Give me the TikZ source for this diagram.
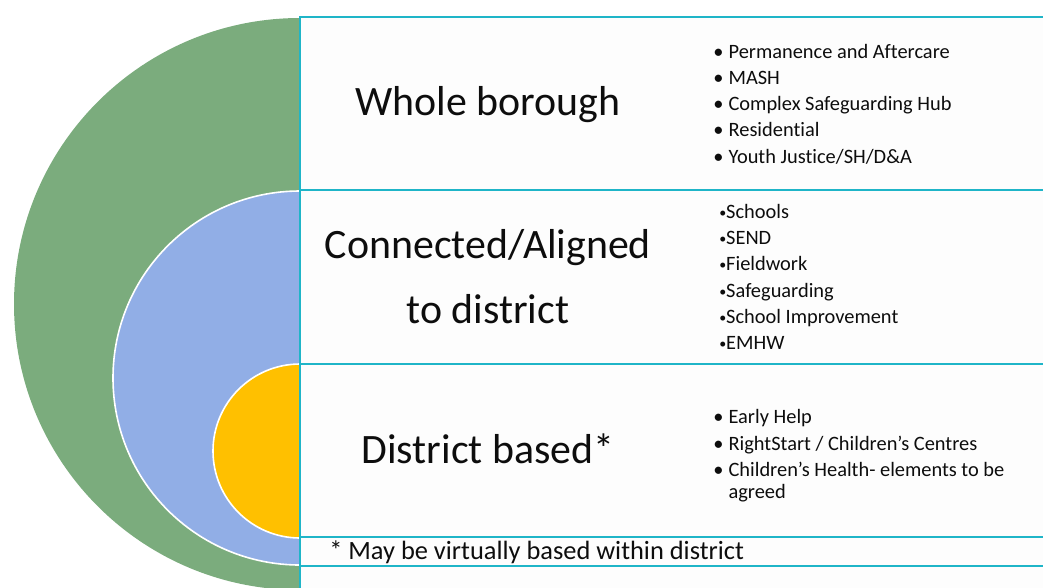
\documentclass[tikz,border=0pt]{standalone}
\usepackage{fontspec}
\setmainfont[Ligatures=NoCommon]{Carlito}
\usepackage{xcolor}

\definecolor{outer}{HTML}{7BAC7D}
\definecolor{middle}{HTML}{91AEE6}
\definecolor{inner}{HTML}{FFC000}
\definecolor{edge}{HTML}{1FB5C8}
\definecolor{paper}{HTML}{FDFDFD}
\definecolor{ink}{HTML}{0D0D0D}

\newcommand{\bul}{\makebox[11.5pt][l]{\textbullet}}
\newcommand{\smallbul}{\raisebox{0.8pt}{\fontsize{10.5}{10.5}\selectfont\textbullet}}

\begin{document}
\begin{tikzpicture}[x=0.75pt,y=-0.75pt]

\tikzset{
    band/.style = {
    draw=edge,
    line width=1.5pt,
    fill=paper
    }
}

\tikzstyle{title}=[text=ink, align=center, font=\fontsize{31.4}{48.75}\selectfont]
\tikzstyle{items}=[text=ink, align=left, anchor=west, inner sep=0pt, font=\fontsize{15.3}{19.7}\selectfont]
\tikzstyle{disc}=[draw=white, line width=1.2pt]

\useasboundingbox (0,0) rectangle (1043,587);
\clip (0,0) rectangle (1043,587);

% half discs on the left
\begin{scope}
\clip (0,0) rectangle (300,587);
\fill [outer] (300,304) circle [radius=286];
\filldraw [disc, fill=middle] (300,378) circle [radius=187];
\filldraw [disc, fill=inner] (300,451) circle [radius=87];
\end{scope}

% bands
\draw [band] (300,17) rectangle (1060,190);
\draw [band] (300,190) rectangle (1060,364);
\draw [band] (300,364) rectangle (1060,537);
\draw [band] (300,537) rectangle (1060,566);
\draw [band] (300,566) rectangle (1060,620);

\node (whole) [title] at (488,105) {Whole borough};
\node (aligned) [title] at (488,277) {Connected/Aligned\\to district};
\node (district) [title] at (488,449) {District based*};

\node (whole-items) [items] at (713,104) {\bul Permanence and Aftercare\\\bul MASH\\\bul Complex Safeguarding Hub\\\bul Residential\\\bul Youth Justice/SH/D\&A};
\node (aligned-items) [items] at (719,277) {\smallbul Schools\\\smallbul SEND\\\smallbul Fieldwork\\\smallbul Safeguarding\\\smallbul School Improvement\\\smallbul EMHW};
\node (district-items) [items] at (713,456) {\bul Early Help\\\bul RightStart / Children’s Centres\\\bul Children’s Health- elements to be\\[-3pt]\hspace*{11.5pt}agreed};

\node (note) [text=ink, anchor=west, inner sep=0pt, font=\fontsize{19.8}{24}\selectfont] at (329,552) {* May be virtually based within district};

\end{tikzpicture}
\end{document}
